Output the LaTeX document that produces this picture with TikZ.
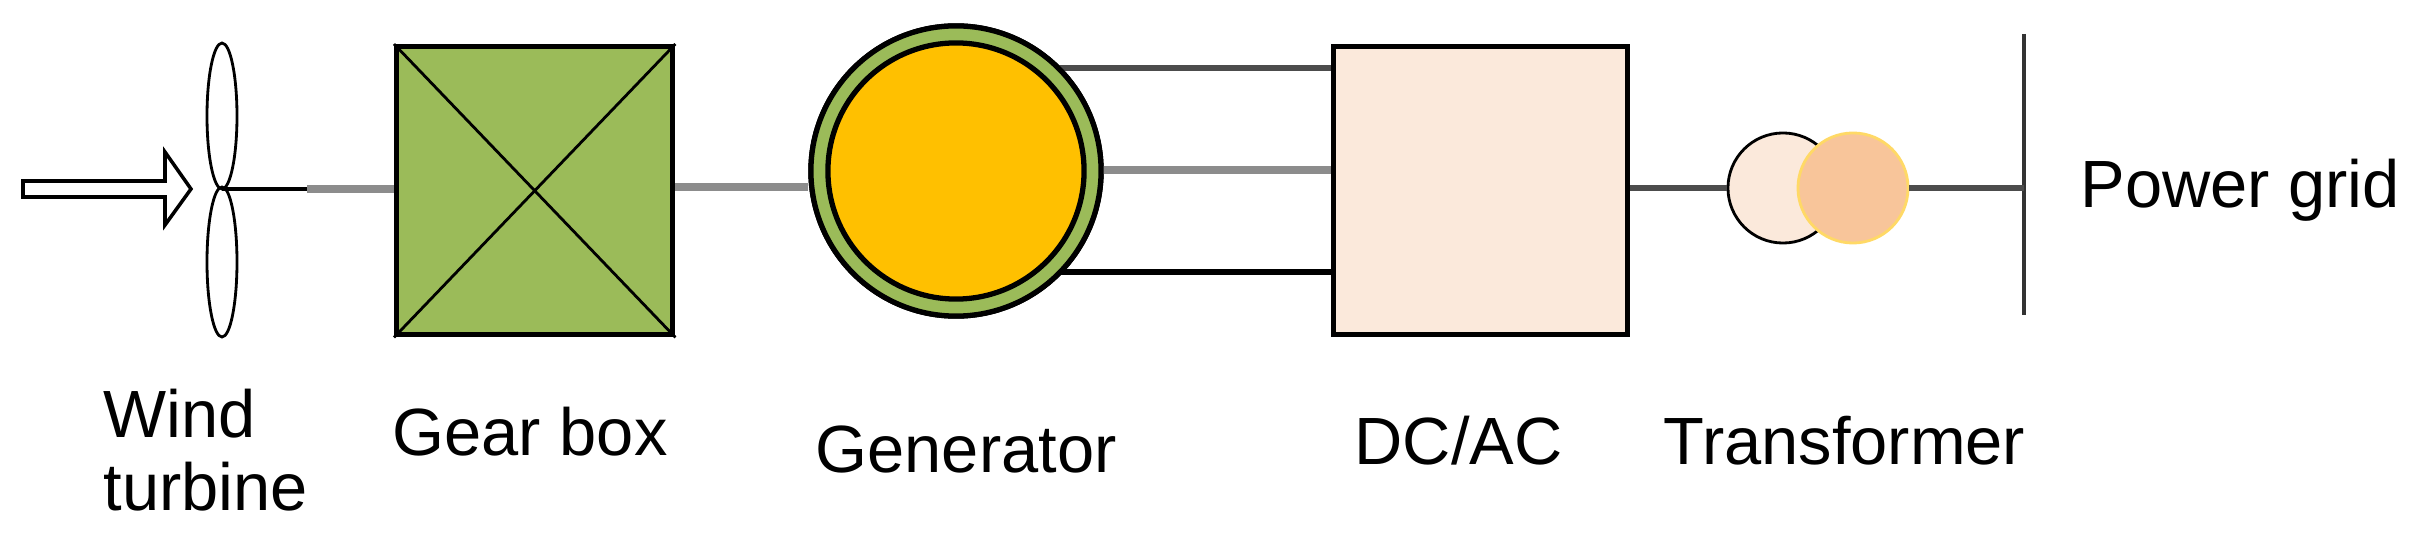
\documentclass[tikz,border=0pt]{standalone}
\usepackage{fontspec}
\setmainfont{Liberation Sans}
\begin{document}
\begin{tikzpicture}[x=0.01cm,y=-0.01cm,
  lbl/.style={font=\fontsize{19}{23}\selectfont,anchor=base west,inner sep=0},
  shaft/.style={draw=black!45,line width=2.2pt}]
\useasboundingbox (0,0) rectangle (2411,534);
\definecolor{gbgreen}{HTML}{9BBB59}
\definecolor{genorange}{HTML}{FFC000}
\definecolor{peach}{HTML}{FBE9DB}
\definecolor{tfor}{HTML}{F8C59A}
% wind arrow
\draw[line width=1pt,fill=white] (23,181) -- (165,181) -- (165,152) -- (191,189) -- (165,225) -- (165,197) -- (23,197) -- cycle;
% turbine blades
\coordinate (hub) at (222,189);
\draw[line width=0.8pt] (222,116) ellipse [x radius=15,y radius=73];
\draw[line width=0.8pt] (222,262) ellipse [x radius=15,y radius=75];
% gearbox
\node[draw,line width=1.5pt,fill=gbgreen,minimum width=2.76cm,minimum height=2.88cm,inner sep=0,anchor=north west] (gb) at (394,44) {};
\draw[line width=0.8pt] (gb.north west) -- (gb.south east) (gb.north east) -- (gb.south west);
% DC/AC
\node[draw,line width=1.5pt,fill=peach,minimum width=2.94cm,minimum height=2.88cm,inner sep=0,anchor=north west] (dc) at (1331,44) {};
% grid bus
\coordinate (busT) at (2024,34);
\coordinate (busB) at (2024,315);
\draw[line width=1.2pt,black!80] (busT) -- (busB);
% generator
\node[circle,draw,line width=1.5pt,fill=gbgreen,minimum size=2.9cm,inner sep=0] (gen) at (956,171) {};
% connectors
\draw[line width=1.2pt] (hub) -- ++(85,0) coordinate (hs);
\draw[shaft] (hs) -- (gb.west |- hub);
\draw[shaft] (gb.east |- 0,187) -- (gen.west |- 0,187);
\draw[line width=1.6pt,black!70] (gen.center |- 0,68) -- (dc.west |- 0,68);
\draw[shaft] (gen.center |- 0,170) -- (dc.west |- 0,170);
\draw[line width=1.6pt] (gen.center |- 0,272) -- (dc.west |- 0,272);
\node[circle,draw,line width=1.5pt,fill=gbgreen,minimum size=2.9cm,inner sep=0] at (956,171) {};
\node[circle,draw,line width=1.5pt,fill=genorange,minimum size=2.56cm,inner sep=0] (geni) at (956,171) {};
% transformer
\node[circle,draw,line width=0.8pt,fill=peach,minimum size=1.1cm,inner sep=0] (t1) at (1783,188) {};
\node[circle,draw=genorange!60,line width=0.8pt,fill=tfor,minimum size=1.1cm,inner sep=0] (t2) at (1853,188) {};
\draw[line width=1.6pt,black!70] (dc.east |- t1) -- (t1.west);
\draw[line width=1.6pt,black!70] (t2.east) -- (busT |- t2);
% labels
\node[lbl] (lw) at (103,438) {Wind};
\node[lbl] (lt) at (103,511) {turbine};
\node[lbl] (lg) at (392,456) {Gear box};
\node[lbl] (lgen) at (815,473) {Generator};
\node[lbl] (ldc) at (1354,465) {DC/AC};
\node[lbl] (ltr) at (1663,465) {Transformer};
\node[lbl] (lpg) at (2080,208) {Power grid};
\end{tikzpicture}
\end{document}
